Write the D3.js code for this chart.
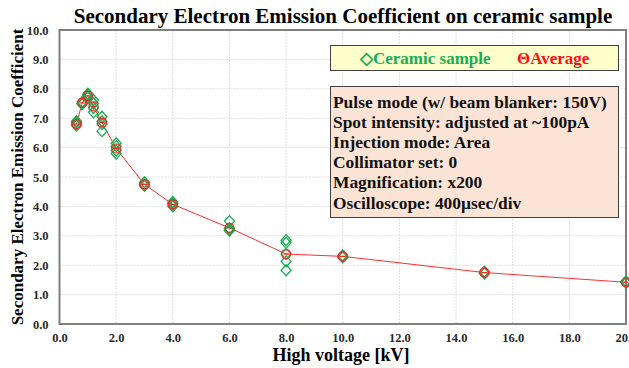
<!DOCTYPE html>
<html>
<head>
<meta charset="utf-8">
<script src="https://cdnjs.cloudflare.com/ajax/libs/d3/7.8.5/d3.min.js"></script>
<style>
  body { margin: 0; background: #fff; }
  text { font-family: "Liberation Serif", "Times New Roman", serif; font-weight: bold; }
</style>
</head>
<body>
<div id="chart-area"></div>
<script>
// voltages (kV) and the average coefficient at each
var voltages = [0.6, 0.8, 1.0, 1.2, 1.5, 2.0, 3.0, 4.0, 6.0, 8.0, 10.0, 15.0, 20.0];
var averages = [6.8, 7.52, 7.76, 7.4, 6.85, 5.97, 4.75, 4.07, 3.27, 2.38, 2.3, 1.75, 1.42];

// individual measurements, one list per voltage
var samples = [
  [6.75, 6.8, 6.86, 6.9],
  [7.48, 7.52, 7.55, 7.5],
  [7.7, 7.75, 7.8, 7.83],
  [7.62, 7.5, 7.35, 7.2],
  [7.05, 6.9, 6.8, 6.56],
  [6.15, 6.05, 5.9, 5.8],
  [4.82, 4.75, 4.7, 4.72],
  [4.15, 4.1, 4.05, 4.0],
  [3.5, 3.25, 3.2, 3.18],
  [2.85, 2.76, 2.38, 2.13, 1.83],
  [2.3, 2.27, 2.33, 2.3],
  [1.78, 1.75, 1.72, 1.76],
  [1.42, 1.45, 1.4, 1.43]
];

var xTicks = [0, 2, 4, 6, 8, 10, 12, 14, 16, 18, 20];
var yTicks = [0, 1, 2, 3, 4, 5, 6, 7, 8, 9, 10];

var infoLines = [
  "Pulse mode (w/ beam blanker: 150V)",
  "Spot intensity: adjusted at ~100pA",
  "Injection mode: Area",
  "Collimator set: 0",
  "Magnification: x200",
  "Oscilloscope: 400\u00b5sec/div"
];

var svgWidth = 629, svgHeight = 368;
var margin = { top: 30, left: 59.5, bottom: 44, right: 3 };
var width = svgWidth - margin.left - margin.right;
var height = svgHeight - margin.top - margin.bottom;

var svg = d3.select("#chart-area").append("svg")
    .attr("width", svgWidth)
    .attr("height", svgHeight);

var graph = svg.append("g")
    .attr("transform", "translate(" + margin.left + ", " + margin.top + ")");

var xScale = d3.scaleLinear().domain([0, 20]).range([0, width]);
var yScale = d3.scaleLinear().domain([0, 10]).range([height, 0]);

// grid
graph.append("g").selectAll("line").data(xTicks.slice(1, -1)).enter().append("line")
    .attr("x1", d => xScale(d)).attr("x2", d => xScale(d))
    .attr("y1", 0).attr("y2", height)
    .attr("stroke", "#e0e0e0").attr("stroke-dasharray", "2,1");
graph.append("g").selectAll("line").data(yTicks.slice(1, -1)).enter().append("line")
    .attr("x1", 0).attr("x2", width)
    .attr("y1", d => yScale(d)).attr("y2", d => yScale(d))
    .attr("stroke", "#e0e0e0").attr("stroke-dasharray", "2,1");

// axes
var yAxisCall = d3.axisLeft(yScale).tickValues(yTicks).tickSize(0).tickPadding(11)
    .tickFormat(d3.format(".1f"));
var yAxis = graph.append("g").attr("class", "y-axis").call(yAxisCall);
yAxis.select(".domain").remove();
yAxis.selectAll("text").style("font-size", "12.5px").attr("fill", "#2a2a2a");

var xAxisCall = d3.axisBottom(xScale).tickValues(xTicks).tickSize(0).tickPadding(9)
    .tickFormat(d => d == 20 ? "20.0" : d3.format(".1f")(d));
var xAxis = graph.append("g").attr("class", "x-axis")
    .attr("transform", "translate(0," + height + ")").call(xAxisCall);
xAxis.select(".domain").remove();
xAxis.selectAll("text").style("font-size", "12.5px").attr("fill", "#2a2a2a");

// frame
graph.append("rect")
    .attr("width", width).attr("height", height)
    .attr("fill", "none").attr("stroke", "#7f7f7f").attr("stroke-width", 2);

// average line
var line = d3.line().x((d, i) => xScale(voltages[i])).y(d => yScale(d));
graph.append("path").datum(averages)
    .attr("d", line).attr("fill", "none")
    .attr("stroke", "#ff3030").attr("stroke-width", 1);

// sample diamonds
var flat = [];
samples.forEach((list, i) => list.forEach(v => flat.push({ x: voltages[i], y: v })));
var diamond = "M0,-5.5L5,0L0,5.5L-5,0Z";
graph.append("g").attr("class", "samples").selectAll("path").data(flat).enter().append("path")
    .attr("d", diamond)
    .attr("transform", d => "translate(" + xScale(d.x) + "," + yScale(d.y) + ")")
    .attr("fill", "none").attr("stroke", "#1aad54").attr("stroke-width", 1.3);

// average markers
var avg = graph.append("g").attr("class", "averages").selectAll("g")
    .data(averages).enter().append("g")
    .attr("transform", (d, i) => "translate(" + xScale(voltages[i]) + "," + yScale(d) + ")");
avg.append("circle").attr("r", 4.5).attr("fill", "none")
    .attr("stroke", "#ff2020").attr("stroke-width", 1.2);
avg.append("line").attr("x1", -2.5).attr("x2", 2.5)
    .attr("stroke", "#ff2020").attr("stroke-width", 1.2);

// title
svg.append("text")
    .attr("x", 343).attr("y", 23)
    .attr("text-anchor", "middle").attr("font-size", "21px")
    .text("Secondary Electron Emission Coefficient on ceramic sample");

// axis labels
svg.append("text")
    .attr("transform", "translate(23," + (margin.top + height / 2) + ") rotate(-90)")
    .attr("text-anchor", "middle").attr("font-size", "17px")
    .text("Secondary Electron Emission Coefficient");
svg.append("text")
    .attr("x", 341).attr("y", 361)
    .attr("text-anchor", "middle").attr("font-size", "18px")
    .text("High voltage [kV]");

// legend
svg.append("rect")
    .attr("x", 330.5).attr("y", 45.5).attr("width", 288).attr("height", 25)
    .attr("fill", "#ffffcc").attr("stroke", "#404040").attr("stroke-width", 1);
svg.append("text").attr("x", 360).attr("y", 64)
    .attr("font-size", "17px").attr("fill", "#1aad54")
    .text("\u25c7Ceramic sample");
svg.append("text").attr("x", 517).attr("y", 64)
    .attr("font-size", "17px").attr("fill", "#ff1010")
    .text("\u0398Average");

// info box
svg.append("rect")
    .attr("x", 330.5).attr("y", 86.5).attr("width", 288).attr("height", 131)
    .attr("fill", "#fbe4d5").attr("stroke", "#404040").attr("stroke-width", 1);
svg.append("g").selectAll("text").data(infoLines).enter().append("text")
    .attr("x", 333).attr("y", (d, i) => 107.5 + i * 20.2)
    .attr("font-size", "17.4px").attr("fill", "#111")
    .text(d => d);
</script>
</body>
</html>
